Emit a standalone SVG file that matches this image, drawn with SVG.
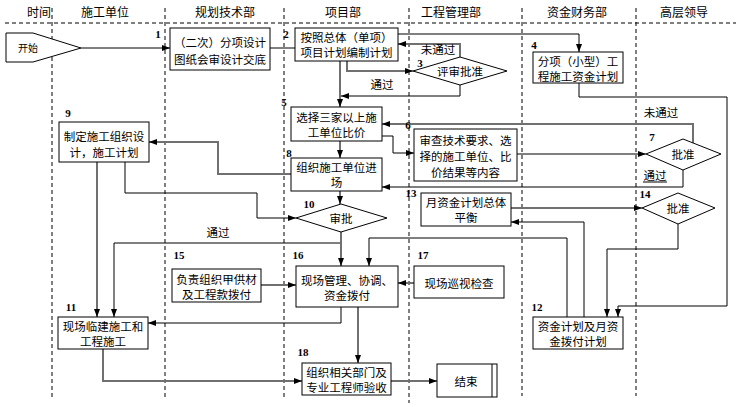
<svg xmlns="http://www.w3.org/2000/svg" width="736" height="407" viewBox="0 0 736 407">
<style>
.t{font-family:"Noto Sans CJK SC","Noto Sans",sans-serif;font-size:11.5px;fill:#000;text-anchor:middle}
.h{font-size:12px}
.n{font-family:"Liberation Serif",serif;font-size:11px;font-weight:bold;fill:#000;text-anchor:middle}
.bx{fill:#fff;stroke:#000;stroke-width:1}
.k{fill:none;stroke:#000;stroke-width:1}
.g{fill:none;stroke:#707070;stroke-width:2}
.d{fill:none;stroke:#000;stroke-width:1;stroke-dasharray:4 3}
</style>
<defs>
<marker id="ah" viewBox="0 0 8 6" refX="8" refY="3" markerWidth="8" markerHeight="6" markerUnits="userSpaceOnUse" orient="auto"><path d="M0,0 L8,3 L0,6 z" fill="#000"/></marker>
</defs>
<rect width="736" height="407" fill="#fff"/>
<g id="lanes">
<line class="d" x1="5" y1="23" x2="736" y2="23"/>
<line class="d" x1="52" y1="8" x2="52" y2="400"/>
<line class="d" x1="165" y1="8" x2="165" y2="400"/>
<line class="d" x1="284" y1="8" x2="284" y2="400"/>
<line class="d" x1="409" y1="8" x2="409" y2="403"/>
<line class="d" x1="522" y1="8" x2="522" y2="396"/>
<line class="d" x1="636" y1="8" x2="636" y2="396"/>
<text class="t h" x="39" y="16.5">时间</text>
<text class="t h" x="105" y="16.5">施工单位</text>
<text class="t h" x="225" y="16.5">规划技术部</text>
<text class="t h" x="343" y="16.5">项目部</text>
<text class="t h" x="451" y="16.5">工程管理部</text>
<text class="t h" x="577" y="16.5">资金财务部</text>
<text class="t h" x="684" y="16.5">高层领导</text>
</g>
<g id="connectors">
<path class="k" d="M81,48 H170" marker-end="url(#ah)"/>
<path class="k" d="M270,48 H295"/>
<path class="k" d="M398,34 H579 V52" marker-end="url(#ah)"/>
<path class="g" d="M347,61 V71 H413" marker-end="url(#ah)"/>
<path class="g" d="M460,57 V44 H398" marker-end="url(#ah)"/>
<path class="k" d="M460,85 V96 H341" marker-end="url(#ah)"/>
<path class="g" d="M340,61 V107" marker-end="url(#ah)"/>
<path class="k" d="M382,136 H393 V153 H414" marker-end="url(#ah)"/>
<path class="k" d="M517,154 H646" marker-end="url(#ah)"/>
<path class="g" d="M693,143 V124 H382" marker-end="url(#ah)"/>
<path class="k" d="M683,170 V187 H382" marker-end="url(#ah)"/>
<path class="g" d="M340,141 V158" marker-end="url(#ah)"/>
<path class="g" d="M291,174 H218 V142 H149" marker-end="url(#ah)"/>
<path class="g" d="M340,191 V204" marker-end="url(#ah)"/>
<path class="k" d="M125,162 V193 H257 V218 H296" marker-end="url(#ah)"/>
<path class="g" d="M97,162 V317" marker-end="url(#ah)"/>
<path class="k" d="M341,232 V243 H114 V317" marker-end="url(#ah)"/>
<path class="g" d="M341,232 V266" marker-end="url(#ah)"/>
<path class="g" d="M511,208 H642" marker-end="url(#ah)"/>
<path class="k" d="M584,317 V222 H511" marker-end="url(#ah)"/>
<path class="k" d="M567,317 V238 H369 V266" marker-end="url(#ah)"/>
<path class="k" d="M678,224 V249 H607 V317" marker-end="url(#ah)"/>
<path class="k" d="M579,83 V97 H727 V306 H618 V317" marker-end="url(#ah)"/>
<path class="g" d="M261,285 H296" marker-end="url(#ah)"/>
<path class="g" d="M414,283 H398" marker-end="url(#ah)"/>
<path class="k" d="M341,307 V323 H148" marker-end="url(#ah)"/>
<path class="g" d="M358,307 V363" marker-end="url(#ah)"/>
<path class="g" d="M103,349 V381 H302" marker-end="url(#ah)"/>
<path class="g" d="M391,381 H437" marker-end="url(#ah)"/>
<text class="t" x="438" y="54">未通过</text>
<text class="t" x="382" y="89">通过</text>
<text class="t" x="661" y="117">未通过</text>
<text class="t" x="655" y="180">通过</text>
<line class="k" x1="643" y1="182" x2="667" y2="182"/>
<text class="t" x="218" y="237">通过</text>
</g>
<g id="start">
<polygon class="bx" points="6,33 33,33 81,48 33,62 6,62"/>
<text class="t" x="28" y="52" style="font-size:10px">开始</text>
</g>
<g id="n1">
<rect class="bx" x="170" y="28" width="100" height="42"/>
<text class="t" x="220" y="47">（二次）分项设计</text>
<text class="t" x="220" y="64">图纸会审设计交底</text>
<text class="n" x="158" y="38">1</text>
</g>
<g id="n2">
<rect class="bx" x="295" y="28" width="103" height="33"/>
<text class="t" x="346.5" y="41.5">按照总体（单项）</text>
<text class="t" x="346.5" y="56.5">项目计划编制计划</text>
<text class="n" x="286" y="38">2</text>
</g>
<g id="n3">
<polygon class="bx" points="413,71 460,57 507,71 460,85"/>
<text class="t" x="460" y="75.5">评审批准</text>
<text class="n" x="420" y="67">3</text>
</g>
<g id="n4">
<rect class="bx" x="533" y="52" width="90" height="31"/>
<text class="t" x="578" y="65.5">分项（小型）工</text>
<text class="t" x="578" y="80.5">程施工资金计划</text>
<text class="n" x="534" y="49">4</text>
</g>
<g id="n5">
<rect class="bx" x="291" y="107" width="91" height="34"/>
<text class="t" x="336.5" y="121.5">选择三家以上施</text>
<text class="t" x="336.5" y="137">工单位比价</text>
<text class="n" x="284" y="106">5</text>
</g>
<g id="n6">
<rect class="bx" x="414" y="129" width="103" height="52"/>
<text class="t" x="465.5" y="145">审查技术要求、选</text>
<text class="t" x="465.5" y="161">择的施工单位、比</text>
<text class="t" x="465.5" y="177">价结果等内容</text>
<text class="n" x="408" y="129">6</text>
</g>
<g id="n7">
<polygon class="bx" points="646,154 683,139 721,154 683,170"/>
<text class="t" x="683" y="159">批准</text>
<text class="n" x="652" y="141">7</text>
</g>
<g id="n8">
<rect class="bx" x="291" y="158" width="91" height="33"/>
<text class="t" x="336.5" y="172">组织施工单位进</text>
<text class="t" x="336.5" y="187">场</text>
<text class="n" x="289" y="157">8</text>
</g>
<g id="n9">
<rect class="bx" x="59" y="122" width="90" height="40"/>
<text class="t" x="104" y="141">制定施工组织设</text>
<text class="t" x="104" y="157">计，施工计划</text>
<text class="n" x="68" y="117">9</text>
</g>
<g id="n10">
<polygon class="bx" points="296,218 341,204 387,218 341,232"/>
<text class="t" x="341" y="222.5">审批</text>
<text class="n" x="309" y="208">10</text>
</g>
<g id="n13">
<rect class="bx" x="421" y="193" width="90" height="33"/>
<text class="t" x="466" y="207">月资金计划总体</text>
<text class="t" x="466" y="222">平衡</text>
<text class="n" x="411" y="197">13</text>
</g>
<g id="n14">
<polygon class="bx" points="642,208 678,193 715,208 678,224"/>
<text class="t" x="678" y="212.5">批准</text>
<text class="n" x="645" y="198">14</text>
</g>
<g id="n15">
<rect class="bx" x="172" y="269" width="89" height="33"/>
<text class="t" x="216.5" y="283.5">负责组织甲供材</text>
<text class="t" x="216.5" y="298.5">及工程款拨付</text>
<text class="n" x="179" y="259">15</text>
</g>
<g id="n16">
<rect class="bx" x="296" y="266" width="102" height="41"/>
<text class="t" x="347" y="285">现场管理、协调、</text>
<text class="t" x="347" y="300">资金拨付</text>
<text class="n" x="298" y="259">16</text>
</g>
<g id="n17">
<rect class="bx" x="414" y="266" width="90" height="32"/>
<text class="t" x="459" y="287.5">现场巡视检查</text>
<text class="n" x="423" y="259">17</text>
</g>
<g id="n11">
<rect class="bx" x="58" y="317" width="90" height="32"/>
<text class="t" x="103" y="330.5">现场临建施工和</text>
<text class="t" x="103" y="345.5">工程施工</text>
<text class="n" x="71" y="311">11</text>
</g>
<g id="n12">
<rect class="bx" x="533" y="317" width="90" height="32"/>
<text class="t" x="578" y="330.5">资金计划及月资</text>
<text class="t" x="578" y="345.5">金拨付计划</text>
<text class="n" x="537" y="311">12</text>
</g>
<g id="n18">
<rect class="bx" x="302" y="363" width="89" height="32"/>
<text class="t" x="346.5" y="376.5">组织相关部门及</text>
<text class="t" x="346.5" y="391.5">专业工程师验收</text>
<text class="n" x="303" y="356">18</text>
</g>
<g id="end">
<rect class="bx" x="437" y="364" width="60" height="33"/>
<line class="k" x1="492" y1="364" x2="492" y2="397"/>
<text class="t" x="466" y="385.5">结束</text>
</g>
</svg>
